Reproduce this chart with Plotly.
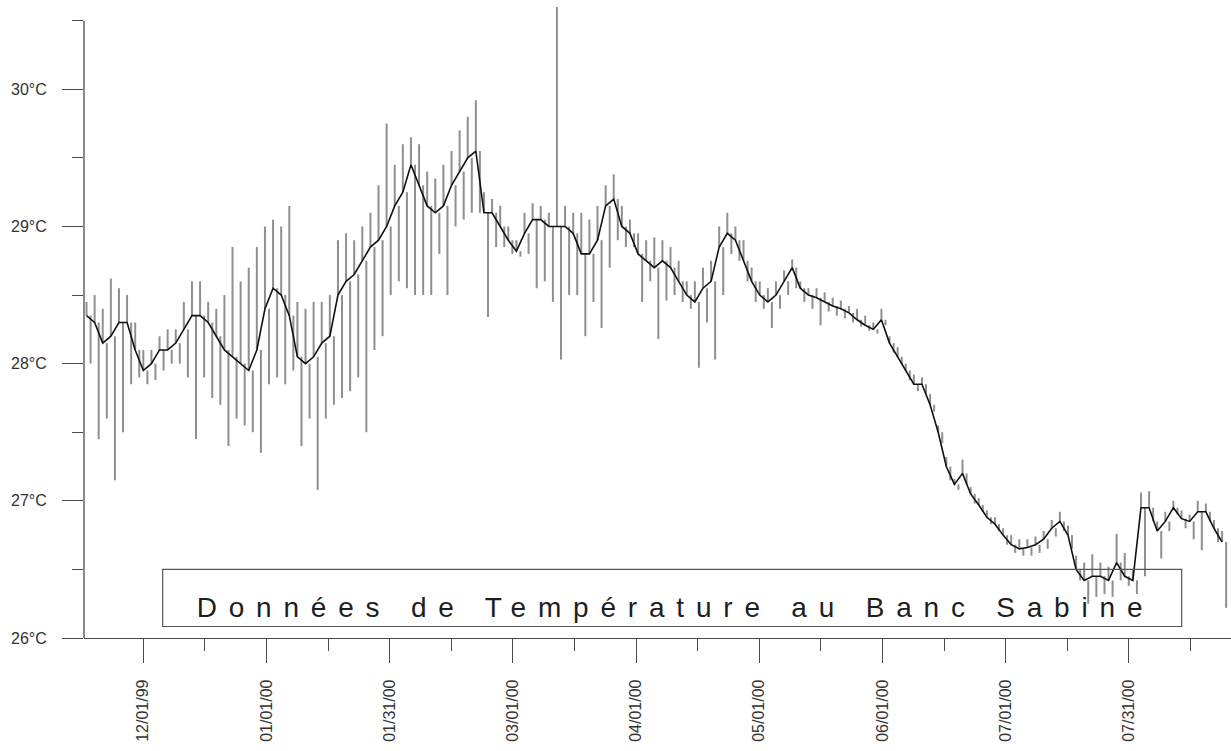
import plotly.graph_objects as go
import pandas as pd

# ---------------- data ----------------
start_date = "1999-11-17"          # first sample, one sample every 2 days
core = [28.35, 28.3, 28.15, 28.2, 28.3, 28.3, 28.1, 27.95, 28.0, 28.1,
        28.1, 28.15, 28.25, 28.35, 28.35, 28.3, 28.2, 28.1, 28.05, 28.0,
        27.95, 28.1, 28.4, 28.55, 28.5, 28.35, 28.05, 28.0, 28.05, 28.15,
        28.2, 28.5, 28.6, 28.65, 28.75, 28.85, 28.9, 29.0, 29.15, 29.25,
        29.45, 29.3, 29.15, 29.1, 29.15, 29.3, 29.4, 29.5, 29.55, 29.1,
        29.1, 29.0, 28.9, 28.82, 28.95, 29.05, 29.05, 29.0, 29.0, 29.0,
        28.95, 28.8, 28.8, 28.9, 29.15, 29.2, 29.0, 28.95, 28.8, 28.75,
        28.7, 28.75, 28.7, 28.6, 28.5, 28.45, 28.55, 28.6, 28.85, 28.95,
        28.9, 28.75, 28.6, 28.5, 28.45, 28.5, 28.6, 28.7, 28.55, 28.5,
        28.48, 28.45, 28.42, 28.4, 28.37, 28.32, 28.28, 28.25, 28.32, 28.15,
        28.05, 27.95, 27.85, 27.85, 27.7, 27.5, 27.25, 27.12, 27.2, 27.05,
        26.97, 26.88, 26.83, 26.75, 26.68, 26.65, 26.66, 26.68, 26.72, 26.8,
        26.85, 26.75, 26.5, 26.42, 26.45, 26.45, 26.42, 26.55, 26.45, 26.42,
        26.95, 26.95, 26.78, 26.85, 26.95, 26.87, 26.85, 26.92, 26.92, 26.8,
        26.7]
high = [28.45, 28.5, 28.4, 28.62, 28.55, 28.5, 28.3, 28.1, 28.1, 28.2,
        28.25, 28.25, 28.45, 28.6, 28.6, 28.45, 28.4, 28.5, 28.85, 28.6,
        28.7, 28.85, 29.0, 29.05, 29.0, 29.15, 28.45, 28.4, 28.45, 28.45,
        28.5, 28.9, 28.95, 28.9, 29.0, 29.1, 29.3, 29.75, 29.45, 29.6,
        29.65, 29.6, 29.4, 29.35, 29.45, 29.55, 29.7, 29.8, 29.92, 29.25,
        29.2, 29.15, 29.0, 28.9, 29.1, 29.17, 29.15, 29.1, 30.6, 29.15,
        29.1, 29.1, 29.05, 29.15, 29.3, 29.38, 29.15, 29.05, 28.95, 28.9,
        28.92, 28.9, 28.85, 28.75, 28.6, 28.6, 28.7, 28.75, 29.0, 29.1,
        29.0, 28.9, 28.7, 28.6, 28.55, 28.6, 28.68, 28.76, 28.6, 28.55,
        28.55, 28.52, 28.48, 28.46, 28.42, 28.4, 28.35, 28.3, 28.4, 28.2,
        28.12, 28.0, 27.92, 27.9, 27.78, 27.55, 27.32, 27.16, 27.3, 27.1,
        27.02, 26.93, 26.88, 26.8, 26.75, 26.72, 26.72, 26.74, 26.78, 26.86,
        26.92, 26.82, 26.6, 26.55, 26.61, 26.55, 26.52, 26.76, 26.62, 26.5,
        27.06, 27.07, 26.85, 26.92, 27.0, 26.93, 26.9, 27.0, 26.98, 26.86,
        26.78]
low = [28.0, 27.45, 27.6, 27.15, 27.5, 27.85, 27.9, 27.85, 27.88, 27.95,
       28.0, 28.0, 27.9, 27.45, 27.9, 27.75, 27.7, 27.4, 27.6, 27.55,
       27.5, 27.35, 27.85, 27.9, 27.85, 27.95, 27.4, 27.6, 27.08, 27.6,
       27.7, 27.75, 27.8, 27.9, 27.5, 28.1, 28.2, 28.5, 28.6, 28.55,
       28.5, 28.5, 28.5, 28.8, 28.5, 29.0, 29.05, 29.1, 29.1, 28.34,
       28.85, 28.85, 28.8, 28.78, 28.8, 28.55, 28.6, 28.45, 28.03, 28.5,
       28.5, 28.2, 28.45, 28.26, 28.7, 28.9, 28.85, 28.85, 28.45, 28.6,
       28.18, 28.46, 28.5, 28.45, 28.4, 27.97, 28.3, 28.03, 28.5, 28.8,
       28.75, 28.6, 28.45, 28.4, 28.26, 28.4, 28.5, 28.55, 28.45, 28.4,
       28.28, 28.38, 28.35, 28.33, 28.3, 28.27, 28.24, 28.22, 28.28, 28.08,
       28.0, 27.88, 27.8, 27.78, 27.65, 27.42, 27.15, 27.08, 27.12, 26.98,
       26.92, 26.83, 26.78, 26.68, 26.62, 26.6, 26.6, 26.62, 26.65, 26.74,
       26.78, 26.65, 26.42, 26.25, 26.3, 26.32, 26.3, 26.42, 26.38, 26.32,
       26.45, 26.85, 26.58, 26.78, 26.9, 26.8, 26.72, 26.64, 26.85, 26.7,
       26.22]

x_tick_labels = ["12/01/99", "01/01/00", "01/31/00", "03/01/00", "04/01/00",
                 "05/01/00", "06/01/00", "07/01/00", "07/31/00"]
y_tick_values = [26, 27, 28, 29, 30]
y_tick_labels = ["26°C", "27°C", "28°C", "29°C", "30°C"]
y_minor_values = [26.5, 27.5, 28.5, 29.5, 30.5]
title_text = "Données de Température au Banc Sabine"

# ---------------- build ----------------
dates = pd.date_range(start_date, periods=len(core), freq="2D")
one_day = pd.Timedelta(days=1)

spike_x, spike_y = [], []
for t, c, h, l in zip(dates, core, high, low):
    spike_x += [t, t, None, t + one_day, t + one_day, None]
    spike_y += [c, h, None, c, l, None]

t0 = pd.Timestamp("1999-12-01")
step = pd.Timedelta(days=30.375)
tick_vals = [t0 + k * step for k in range(len(x_tick_labels))]
minor_vals = [t0 + (k + 0.5) * step for k in range(len(x_tick_labels))]
x_range = [t0 - pd.Timedelta(days=14.62), t0 + pd.Timedelta(days=268.2)]

FONT = "Arial, 'Liberation Sans', Helvetica, sans-serif"
AX = "#4a4a4a"

fig = go.Figure()
fig.add_trace(go.Scatter(x=spike_x, y=spike_y, mode="lines",
                         line=dict(color="rgba(100,100,100,0.72)", width=2.0),
                         hoverinfo="skip", showlegend=False))
fig.add_trace(go.Scatter(x=dates, y=core, mode="lines",
                         line=dict(color="#111111", width=1.6),
                         showlegend=False))

fig.update_layout(
    width=1231, height=751,
    margin=dict(l=84, r=0, t=7, b=113, pad=0),
    paper_bgcolor="white", plot_bgcolor="white",
    font=dict(family=FONT, size=16, color="#333333"),
    showlegend=False,
)
fig.update_xaxes(
    type="date", range=x_range, showgrid=False, zeroline=False,
    showline=True, linecolor=AX, linewidth=1.3,
    tickmode="array", tickvals=tick_vals, ticktext=x_tick_labels,
    ticks="outside", ticklen=24, tickwidth=1.2, tickcolor=AX,
    tickangle=-90, tickfont=dict(size=16, color="#333333"),
    ticklabelstandoff=10,
    minor=dict(tickmode="array", tickvals=minor_vals, ticks="outside",
               ticklen=12, tickwidth=1.2, tickcolor=AX, showgrid=False),
    automargin=False,
)
fig.update_yaxes(
    range=[26, 30.6], showgrid=False, zeroline=False, showline=False,
    tickmode="array", tickvals=y_tick_values, ticktext=y_tick_labels,
    ticks="outside", ticklen=21, tickwidth=1.2, tickcolor=AX,
    tickfont=dict(size=16, color="#333333"),
    ticklabelstandoff=12,
    minor=dict(tickmode="array", tickvals=y_minor_values, ticks="outside",
               ticklen=11, tickwidth=1.2, tickcolor=AX, showgrid=False),
    automargin=False,
)

# y axis line (stops at 30.5)
fig.add_shape(type="line", xref="paper", yref="y", x0=0, x1=0, y0=26, y1=30.5,
              line=dict(color=AX, width=1.3))
# title box
fig.add_shape(type="rect", xref="paper", yref="paper",
              x0=0.0686, x1=0.957, y0=0.0182, y1=0.1086,
              line=dict(color="#555555", width=1.2), fillcolor="rgba(0,0,0,0)")
fig.add_annotation(text=title_text, xref="paper", yref="y",
                   x=0.5153, y=26.226, showarrow=False,
                   xanchor="center", yanchor="middle",
                   font=dict(family=FONT, size=28, color="#1e1e1e"))

post = """
document.body.style.margin='0';
document.body.style.overflow='hidden';
var gd = document.getElementById('{plot_id}');
function sp(){
  gd.querySelectorAll('.annotation-text').forEach(function(e){ e.style.letterSpacing='11.8px'; });
}
sp(); setTimeout(sp, 50); setTimeout(sp, 300);
if (gd.on) { gd.on('plotly_afterplot', sp); }
"""
fig.write_html("out.html", post_script=post, config={"displayModeBar": False})
